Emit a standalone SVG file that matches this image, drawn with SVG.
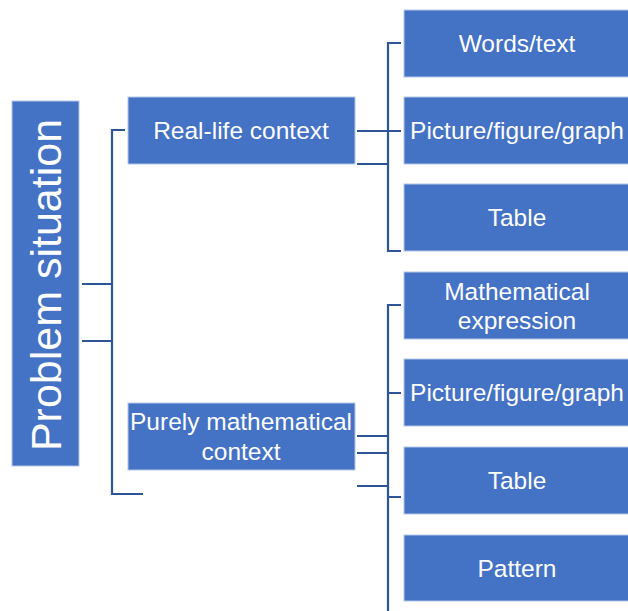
<svg xmlns="http://www.w3.org/2000/svg" width="628" height="611" viewBox="0 0 628 611">
<style>
.box{fill:#4472C4;stroke:#B4C7E7;stroke-width:1}
.t{fill:#fff;font-family:"Liberation Sans","Open Sans",sans-serif;font-size:24.5px;text-anchor:middle;dominant-baseline:central}
.c{fill:none;stroke:#2F5597;stroke-width:2.2}
</style>
<rect width="628" height="611" fill="#fff"/>
<g id="connectors">
<path class="c" d="M82 284H112M82 341H112M125 130H112V494H143"/>
<path class="c" d="M401 43H388V251H401M357 131H401M357 164H388"/>
<path class="c" d="M401 305H388V611M388 393H401M388 497H401M357 436H388M357 453H388M357 486H388"/>
</g>
<g id="problem-situation">
<rect class="box" x="12" y="101" width="67" height="365"/>
<text class="t" transform="translate(46 285) rotate(-90)" style="font-size:43px">Problem situation</text>
</g>
<g id="real-life">
<rect class="box" x="128" y="97" width="227" height="67"/>
<text class="t" x="241" y="130">Real-life context</text>
</g>
<g id="purely-math">
<rect class="box" x="128" y="403" width="227" height="67"/>
<text class="t" x="241" y="421">Purely mathematical</text>
<text class="t" x="241" y="451">context</text>
</g>
<g id="words-text">
<rect class="box" x="404" y="10" width="230" height="67"/>
<text class="t" x="517" y="43">Words/text</text>
</g>
<g id="picture-1">
<rect class="box" x="404" y="97" width="230" height="67"/>
<text class="t" x="517" y="130">Picture/figure/graph</text>
</g>
<g id="table-1">
<rect class="box" x="404" y="184" width="230" height="67"/>
<text class="t" x="517" y="217">Table</text>
</g>
<g id="math-expression">
<rect class="box" x="404" y="272" width="230" height="67"/>
<text class="t" x="517" y="291">Mathematical</text>
<text class="t" x="517" y="320">expression</text>
</g>
<g id="picture-2">
<rect class="box" x="404" y="359" width="230" height="67"/>
<text class="t" x="517" y="392">Picture/figure/graph</text>
</g>
<g id="table-2">
<rect class="box" x="404" y="447" width="230" height="67"/>
<text class="t" x="517" y="480">Table</text>
</g>
<g id="pattern">
<rect class="box" x="404" y="535" width="230" height="66"/>
<text class="t" x="517" y="568">Pattern</text>
</g>
</svg>
